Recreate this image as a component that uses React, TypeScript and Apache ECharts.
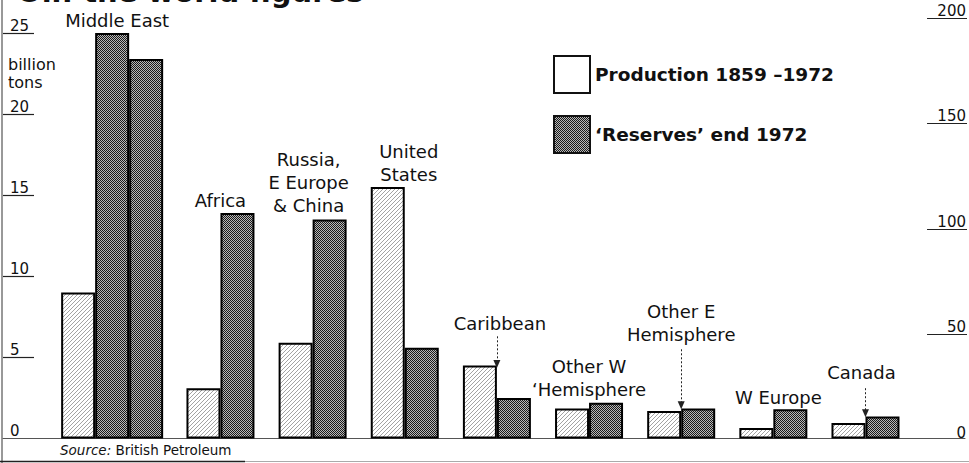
import React, { useEffect, useRef } from "react";
import * as echarts from "echarts";

// ---- data (billion tons) ----
const regions = [
  "Middle East",
  "Africa",
  "Russia,\nE Europe\n& China",
  "United\nStates",
  "Caribbean",
  "Other W\n‘Hemisphere",
  "Other E\nHemisphere",
  "W Europe",
  "Canada",
];
const production = [9.0, 3.1, 5.9, 15.5, 4.5, 1.85, 1.7, 0.65, 0.95];
const reserves = [25, 13.9, 13.5, 5.6, 2.5, 2.2, 1.85, 1.8, 1.35];
// Middle East reserves exceed the scale: the remainder is drawn as a second bar
const reservesContinued = [23.4];
const leftTicks = { min: 0, max: 25, interval: 5 };
const rightTicks = { min: 0, max: 200, interval: 50 };

const PROD = "Production 1859 –1972";
const RES = "‘Reserves’ end 1972";
const RES2 = "‘Reserves’ end 1972 (continued)";

// ---- layout (not data) ----
const labelLayout = [
  { anchor: "res", dx: 5, gap: 13 },
  { anchor: "res", dx: -17, gap: 13 },
  { anchor: "res", dx: -21, gap: 14 },
  { anchor: "prod", dx: 21, gap: 13 },
  { anchor: "prod", dx: 20, gap: 42 },
  { anchor: "res", dx: -17, gap: 13 },
  { anchor: "prod", dx: 17, gap: 76 },
  { anchor: "res", dx: -12, gap: 12 },
  { anchor: "prod", dx: 13, gap: 51 },
];
// pointer arrows: region index, start value, tip value
const arrows = [
  { i: 4, from: 6.3, to: 4.6 },
  { i: 6, from: 5.5, to: 2.05 },
  { i: 8, from: 3.1, to: 1.55 },
];

const FONT = "DejaVu Sans";
const X_MIN = -1;
const X_MAX = 9.44;
const groupX = (i: number) => (i === 0 ? 0 : i + 0.36);
const HALF = 0.1845;
// tick underline lengths, as a fraction of the plot width
const LEFT_TICK = 31 / 962;
const RIGHT_TICK = 40 / 965;

function tickValues(t: { min: number; max: number; interval: number }) {
  const out: number[] = [];
  for (let v = t.min + t.interval; v <= t.max + 1e-9; v += t.interval) out.push(v);
  return out;
}

function hatchPattern() {
  const c = document.createElement("canvas");
  c.width = 4;
  c.height = 4;
  const g = c.getContext("2d")!;
  g.fillStyle = "#ffffff";
  g.fillRect(0, 0, 4, 4);
  g.strokeStyle = "#8c8c8c";
  g.lineWidth = 0.8;
  g.beginPath();
  g.moveTo(-1, 5);
  g.lineTo(5, -1);
  g.moveTo(-1, 1);
  g.lineTo(1, -1);
  g.moveTo(3, 5);
  g.lineTo(5, 3);
  g.stroke();
  return { image: c, repeat: "repeat", imageWidth: 4, imageHeight: 4 };
}

function stipplePattern() {
  const c = document.createElement("canvas");
  c.width = 2;
  c.height = 2;
  const g = c.getContext("2d")!;
  g.fillStyle = "#b8b8b8";
  g.fillRect(0, 0, 2, 2);
  g.fillStyle = "#1a1a1a";
  g.fillRect(0, 0, 1, 1);
  g.fillRect(1, 1, 1, 1);
  return { image: c, repeat: "repeat", imageWidth: 2, imageHeight: 2 };
}

function labelFor(i: number, which: string) {
  const l = labelLayout[i];
  if (l.anchor !== which) return undefined;
  return {
    show: true,
    position: "top",
    distance: l.gap - 11.5,
    offset: [l.dx, 0],
    formatter: regions[i],
    fontFamily: FONT,
    fontSize: 18,
    lineHeight: 23,
    color: "#111",
    align: "center",
  };
}

export default function App() {
  const ref = useRef<HTMLDivElement>(null);

  useEffect(() => {
    if (!ref.current) return;
    const chart = echarts.init(ref.current, null, { renderer: "svg" });
    const hatch = hatchPattern();
    const stipple = stipplePattern();
    const barBorder = { borderColor: "#000", borderWidth: 2 };
    const tickLine = { type: "solid", color: "#222", width: 1.2 };

    const axisLabel = {
      show: true,
      inside: true,
      verticalAlign: "bottom",
      color: "#111",
      fontSize: 15,
      fontFamily: FONT,
    };

    const option: any = {
      animation: false,
      textStyle: { fontFamily: FONT },
      grid: [
        { left: 3, right: 4, top: 33, bottom: 24.5 },
        { left: 3, right: 1, top: 18, bottom: 23 },
      ],
      xAxis: [
        {
          type: "value",
          gridIndex: 0,
          min: X_MIN,
          max: X_MAX,
          axisLine: { show: true, lineStyle: { color: "#555", width: 1 } },
          axisTick: { show: false },
          axisLabel: { show: false },
          splitLine: { show: false },
        },
        { type: "value", gridIndex: 1, min: 0, max: 1, show: false },
      ],
      yAxis: [
        {
          type: "value",
          gridIndex: 0,
          ...leftTicks,
          axisLine: { show: false },
          axisTick: { show: false },
          axisLabel: { ...axisLabel, margin: 7 },
          splitLine: { show: false },
        },
        {
          type: "value",
          gridIndex: 1,
          position: "right",
          ...rightTicks,
          axisLine: { show: false },
          axisTick: { show: false },
          axisLabel: { ...axisLabel, margin: 1 },
          splitLine: { show: false },
        },
      ],
      legend: {
        orient: "vertical",
        left: 553,
        top: 55,
        padding: 0,
        itemWidth: 36,
        itemHeight: 37,
        itemGap: 21,
        icon: "rect",
        selectedMode: false,
        textStyle: { fontSize: 18.5, fontWeight: "bold", color: "#111", fontFamily: FONT },
        data: [
          { name: PROD, itemStyle: { color: "#ffffff", borderColor: "#111", borderWidth: 2 } },
          { name: RES, itemStyle: { color: stipple, borderColor: "#111", borderWidth: 2 } },
        ],
      },
      series: [
        {
          name: PROD,
          type: "bar",
          xAxisIndex: 0,
          yAxisIndex: 0,
          barWidth: 34,
          barGap: "-100%",
          itemStyle: { color: hatch, ...barBorder },
          data: production.map((v, i) => ({
            value: [groupX(i) - HALF, v],
            label: labelFor(i, "prod"),
          })),
          markLine: {
            silent: true,
            symbol: ["none", "triangle"],
            symbolSize: [7, 8],
            label: { show: false },
            lineStyle: { type: [2, 2], color: "#222", width: 1 },
            data: arrows.map((a) => [
              { coord: [groupX(a.i), a.from] },
              { coord: [groupX(a.i), a.to] },
            ]),
          },
        },
        {
          name: RES,
          type: "bar",
          xAxisIndex: 0,
          yAxisIndex: 0,
          barWidth: 34,
          barGap: "-100%",
          itemStyle: { color: stipple, ...barBorder },
          data: reserves.map((v, i) => ({
            value: [groupX(i) + HALF, v],
            label: labelFor(i, "res"),
          })),
          // left-scale tick underlines
          markLine: {
            silent: true,
            symbol: ["none", "none"],
            label: { show: false },
            lineStyle: tickLine,
            data: tickValues(leftTicks).map((v) => [
              { coord: [X_MIN, v] },
              { coord: [X_MIN + LEFT_TICK * (X_MAX - X_MIN), v] },
            ]),
          },
        },
        {
          name: RES2,
          type: "bar",
          xAxisIndex: 0,
          yAxisIndex: 0,
          barWidth: 34,
          barGap: "-100%",
          itemStyle: { color: stipple, ...barBorder },
          data: reservesContinued.map((v, i) => ({ value: [groupX(i) + 3 * HALF, v] })),
        },
        {
          name: "right scale",
          type: "line",
          xAxisIndex: 1,
          yAxisIndex: 1,
          data: [],
          silent: true,
          // right-scale tick underlines
          markLine: {
            silent: true,
            symbol: ["none", "none"],
            label: { show: false },
            lineStyle: tickLine,
            data: tickValues(rightTicks).map((v) => [
              { coord: [1 - RIGHT_TICK, v] },
              { coord: [1, v] },
            ]),
          },
        },
      ],
      graphic: [
        {
          type: "text",
          x: 17,
          y: 6,
          style: {
            text: "Oil: the world figures",
            fontFamily: FONT,
            fontSize: 29,
            fontWeight: "bold",
            fill: "#111",
            verticalAlign: "bottom",
          },
        },
        {
          type: "text",
          x: 8,
          y: 55,
          style: {
            text: "billion\ntons",
            fontFamily: FONT,
            fontSize: 16,
            lineHeight: 18,
            fill: "#111",
          },
        },
        {
          type: "text",
          x: 60,
          y: 450,
          style: {
            text: "{i|Source:} British Petroleum",
            fontFamily: FONT,
            fontSize: 13.5,
            fill: "#111",
            verticalAlign: "middle",
            rich: { i: { fontStyle: "italic", fontFamily: FONT, fontSize: 13.5, fill: "#111" } },
          },
        },
        {
          type: "line",
          shape: { x1: 2, y1: 0, x2: 2, y2: 463 },
          style: { stroke: "#333", lineWidth: 1 },
        },
        {
          type: "line",
          shape: { x1: 0, y1: 461.5, x2: 245, y2: 461.5 },
          style: { stroke: "#222", lineWidth: 1.5 },
        },
        {
          type: "line",
          shape: { x1: 245, y1: 461.5, x2: 969, y2: 461.5 },
          style: { stroke: "#aaa", lineWidth: 1 },
        },
      ],
    };

    chart.setOption(option);
    return () => chart.dispose();
  }, []);

  return <div ref={ref} style={{ width: 969, height: 463, position: "absolute", left: 0, top: 0 }} />;
}
